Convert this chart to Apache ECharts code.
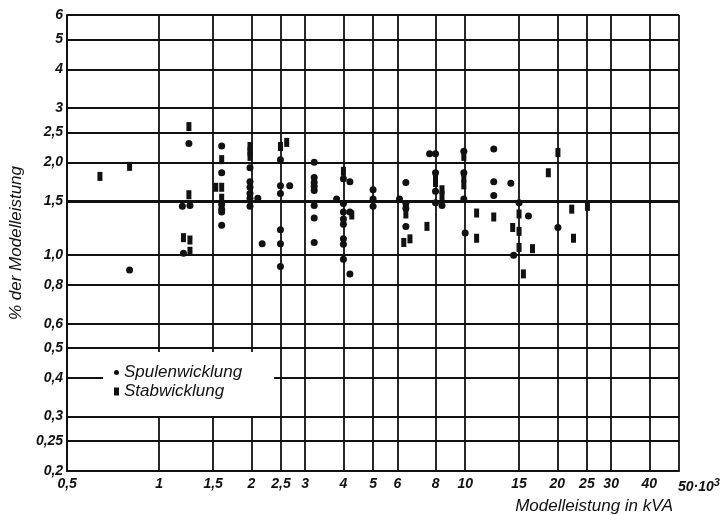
<!DOCTYPE html>
<html><head><meta charset="utf-8">
<script src="https://cdn.jsdelivr.net/npm/echarts@6/dist/echarts.min.js"></script>
<style>html,body{margin:0;padding:0;background:#fff}#c{width:726px;height:515px}</style>
</head><body><div id="c"></div>
<script>
const xTicks = [0.5,1,1.5,2,2.5,3,4,5,6,8,10,15,20,25,30,40,50];
const xTickLabels = ['0,5','1','1,5','2','2,5','3','4','5','6','8','10','15','20','25','30','40','50'];
const yTicks = [0.2,0.25,0.3,0.4,0.5,0.6,0.8,1,1.5,2,2.5,3,4,5,6];
const yTickLabels = ['0,2','0,25','0,3','0,4','0,5','0,6','0,8','1,0','1,5','2,0','2,5','3','4','5','6'];
const seriesNames = ['Spulenwicklung','Stabwicklung'];

// Spulenwicklung (round dots): [kVA/1000, %]
const spulen = [
  [0.80,0.895],[1.25,2.30],[1.19,1.44],[1.26,1.45],[1.20,1.015],
  [1.60,2.26],[1.60,1.85],[1.60,1.46],[1.60,1.41],[1.60,1.38],[1.60,1.25],
  [1.98,1.92],[1.98,1.73],[1.98,1.66],[1.98,1.585],[1.98,1.53],[1.98,1.44],[2.10,1.53],[2.17,1.09],
  [2.49,2.04],[2.49,1.68],[2.49,1.585],[2.67,1.68],[2.49,1.21],[2.49,1.09],[2.49,0.92],
  [3.21,2.0],[3.21,1.785],[3.21,1.72],[3.21,1.67],[3.21,1.62],[3.21,1.45],[3.21,1.32],[3.21,1.10],
  [4.0,1.77],[4.2,1.73],[3.8,1.52],[4.0,1.47],[4.0,1.38],[4.2,1.38],[4.0,1.31],[4.0,1.26],
  [4.0,1.13],[4.0,1.085],[4.0,0.97],[4.2,0.87],
  [5.0,1.63],[5.0,1.52],[5.0,1.44],
  [6.4,1.72],[6.1,1.52],[6.4,1.47],[6.4,1.42],[6.4,1.24],
  [7.65,2.13],[8.0,2.13],[8.0,1.85],[8.0,1.61],[8.0,1.48],[8.4,1.45],
  [9.9,2.17],[9.9,1.85],[9.9,1.52],[10.0,1.18],
  [12.4,2.21],[12.4,1.73],[12.4,1.56],[14.1,1.71],[14.4,1.0],
  [15.0,1.48],[16.1,1.34],[20.1,1.23]
];
// Stabwicklung (small bars)
const stab = [
  [0.64,1.80],[0.80,1.94],[1.25,2.61],[1.25,1.57],[1.20,1.14],[1.26,1.12],[1.26,1.03],
  [1.60,2.04],[1.53,1.66],[1.60,1.66],[1.60,1.53],
  [1.98,2.25],[1.98,2.17],[1.98,2.09],[2.61,2.32],[2.49,2.25],
  [4.0,1.87],[4.26,1.35],[6.4,1.36],[6.3,1.10],[6.6,1.13],[7.5,1.24],
  [8.0,1.785],[8.0,1.72],[8.4,1.63],[8.4,1.56],
  [9.9,2.09],[9.9,1.785],[9.9,1.69],[10.9,1.37],[10.9,1.135],
  [12.4,1.33],[14.3,1.23],[15.0,1.36],[15.0,1.195],[15.0,1.06],[16.6,1.05],[15.5,0.87],
  [18.7,1.85],[20.1,2.15],[22.3,1.41],[22.6,1.135],[25.1,1.44]
];
const refLine = 1.5;

function lookup(ticks, labels, v) {
  for (let i = 0; i < ticks.length; i++) {
    if (Math.abs(ticks[i] - v) / ticks[i] < 1e-6) return labels[i];
  }
  return '';
}
const FONT = 'Liberation Sans';
const lineC = '#111';
const chart = echarts.init(document.getElementById('c'), null, {renderer: 'canvas'});
chart.setOption({
  backgroundColor: '#fff',
  animation: false,
  grid: {left: 60, right: 47, top: 15, bottom: 42, containLabel: false},
  xAxis: {
    type: 'log', logBase: 10, min: 0.5, max: 50,
    name: 'Modelleistung in kVA', nameLocation: 'end', nameGap: -6,
    nameTextStyle: {fontFamily: FONT, fontStyle: 'italic', fontSize: 17, color: lineC,
      align: 'right', verticalAlign: 'top', padding: [27, 0, 0, 0]},
    axisLine: {show: true, lineStyle: {color: lineC, width: 2}},
    axisTick: {show: false, customValues: xTicks},
    splitLine: {show: true, lineStyle: {color: lineC, width: 1.8}},
    axisLabel: {
      customValues: xTicks, margin: 6,
      fontFamily: FONT, fontStyle: 'italic', fontWeight: 'bold', fontSize: 14, color: lineC,
      formatter: function (v) {
        const s = lookup(xTicks, xTickLabels, v);
        if (Math.abs(v - 50) < 1e-6) return '{p|' + s + '·10}{s|3}';
        return s;
      },
      rich: {
        p: {fontFamily: FONT, fontStyle: 'italic', fontWeight: 'bold', fontSize: 14, color: lineC, padding: [0,0,0,40]},
        s: {fontFamily: FONT, fontStyle: 'italic', fontWeight: 'bold', fontSize: 11, color: lineC, padding: [0,0,9,0]}
      }
    }
  },
  yAxis: {
    type: 'log', logBase: 10, min: 0.2, max: 6,
    name: '% der Modelleistung', nameLocation: 'middle', nameGap: 38, nameRotate: 90,
    nameTextStyle: {fontFamily: FONT, fontStyle: 'italic', fontSize: 17, color: lineC},
    axisLine: {show: true, lineStyle: {color: lineC, width: 2}},
    axisTick: {show: false, customValues: yTicks},
    splitLine: {show: true, lineStyle: {color: lineC, width: 1.8}},
    axisLabel: {
      customValues: yTicks, margin: 4,
      fontFamily: FONT, fontStyle: 'italic', fontWeight: 'bold', fontSize: 14, color: lineC,
      formatter: function (v) { return lookup(yTicks, yTickLabels, v); }
    }
  },
  legend: {
    orient: 'vertical', left: 103, top: 352,
    backgroundColor: '#fff', borderWidth: 0,
    padding: [12, 32, 16, 11],
    itemGap: 2, itemWidth: 5, itemHeight: 8,
    selectedMode: false,
    textStyle: {fontFamily: FONT, fontStyle: 'italic', fontSize: 17, color: lineC, lineHeight: 17},
    data: seriesNames
  },
  series: [
    {
      name: seriesNames[0], type: 'scatter', data: spulen,
      symbol: 'circle', symbolSize: 7,
      itemStyle: {color: lineC, opacity: 1},
      z: 5,
      markLine: {
        silent: true, symbol: 'none', label: {show: false},
        lineStyle: {color: lineC, width: 3, type: 'solid'},
        data: [{yAxis: refLine}]
      }
    },
    {
      name: seriesNames[1], type: 'scatter', data: stab,
      symbol: 'rect', symbolSize: [5, 9],
      itemStyle: {color: lineC, opacity: 1},
      z: 5
    }
  ]
});
</script>
</body></html>
